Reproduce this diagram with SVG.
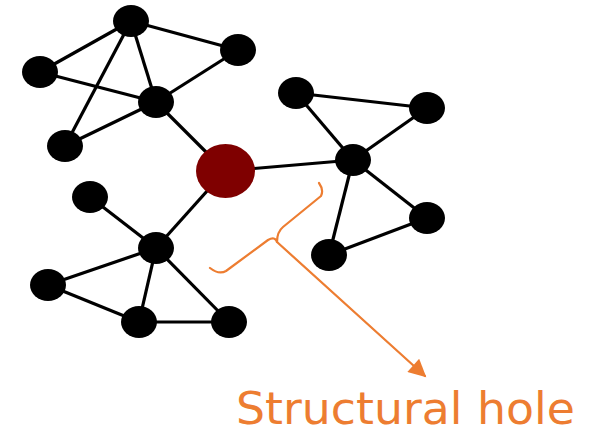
<svg xmlns="http://www.w3.org/2000/svg" width="595" height="436" viewBox="0 0 595 436">
  <style>
    .edge { stroke: #000; stroke-width: 3.2; fill: none; }
    .node { fill: #000; }
    .hub { fill: #7f0000; }
    .hole { stroke: #ED7D31; stroke-width: 2.2; fill: none; stroke-linecap: round; stroke-linejoin: round; }
    .label { fill: #ED7D31; font-family: "DejaVu Sans", "Liberation Sans", sans-serif; font-size: 44px; }
  </style>
  <defs>
    <marker id="arrow" viewBox="0 0 10 10" refX="9" refY="5" markerWidth="10" markerHeight="8" markerUnits="strokeWidth" orient="auto">
      <path d="M0,0 L10,5 L0,10 z" fill="#ED7D31"/>
    </marker>
  </defs>
  <rect width="595" height="436" fill="#fff"/>

  <g id="connectors">
    <!-- upper-left cluster -->
    <line class="edge" x1="131" y1="21" x2="40" y2="72"/>
    <line class="edge" x1="131" y1="21" x2="65" y2="146"/>
    <line class="edge" x1="131" y1="21" x2="156" y2="102"/>
    <line class="edge" x1="131" y1="21" x2="238" y2="50"/>
    <line class="edge" x1="40" y1="72" x2="156" y2="102"/>
    <line class="edge" x1="65" y1="146" x2="156" y2="102"/>
    <line class="edge" x1="238" y1="50" x2="156" y2="102"/>
    <line class="edge" x1="156" y1="102" x2="225" y2="171"/>
    <!-- right cluster -->
    <line class="edge" x1="296" y1="93" x2="427" y2="108"/>
    <line class="edge" x1="296" y1="93" x2="353" y2="160"/>
    <line class="edge" x1="427" y1="108" x2="353" y2="160"/>
    <line class="edge" x1="353" y1="160" x2="225" y2="171"/>
    <line class="edge" x1="353" y1="160" x2="427" y2="218"/>
    <line class="edge" x1="353" y1="160" x2="329" y2="255"/>
    <line class="edge" x1="427" y1="218" x2="329" y2="255"/>
    <!-- lower-left cluster -->
    <line class="edge" x1="90" y1="197" x2="156" y2="248"/>
    <line class="edge" x1="156" y1="248" x2="225" y2="171"/>
    <line class="edge" x1="156" y1="248" x2="48" y2="285"/>
    <line class="edge" x1="156" y1="248" x2="139" y2="322"/>
    <line class="edge" x1="156" y1="248" x2="229" y2="322"/>
    <line class="edge" x1="48" y1="285" x2="139" y2="322"/>
    <line class="edge" x1="139" y1="322" x2="229" y2="322"/>
  </g>

  <g id="n-a"><ellipse class="node" cx="131" cy="21" rx="18" ry="16"/></g>
  <g id="n-b"><ellipse class="node" cx="238" cy="50" rx="18" ry="16"/></g>
  <g id="n-c"><ellipse class="node" cx="40" cy="72" rx="18" ry="16"/></g>
  <g id="n-d"><ellipse class="node" cx="156" cy="102" rx="18" ry="16"/></g>
  <g id="n-e"><ellipse class="node" cx="65" cy="146" rx="18" ry="16"/></g>
  <g id="n-f"><ellipse class="node" cx="296" cy="93" rx="18" ry="16"/></g>
  <g id="n-g"><ellipse class="node" cx="427" cy="108" rx="18" ry="16"/></g>
  <g id="n-h"><ellipse class="node" cx="353" cy="160" rx="18" ry="16"/></g>
  <g id="n-i"><ellipse class="node" cx="427" cy="218" rx="18" ry="16"/></g>
  <g id="n-j"><ellipse class="node" cx="329" cy="255" rx="18" ry="16"/></g>
  <g id="n-k"><ellipse class="node" cx="90" cy="197" rx="18" ry="16"/></g>
  <g id="n-l"><ellipse class="node" cx="156" cy="248" rx="18" ry="16"/></g>
  <g id="n-m"><ellipse class="node" cx="48" cy="285" rx="18" ry="16"/></g>
  <g id="n-n"><ellipse class="node" cx="139" cy="322" rx="18" ry="16"/></g>
  <g id="n-o"><ellipse class="node" cx="229" cy="322" rx="18" ry="16"/></g>
  <g id="n-hub"><ellipse class="hub" cx="225.5" cy="171" rx="29.5" ry="27"/></g>

  <g id="structural-hole">
    <path class="hole" d="M319,183 Q324,190 321,196 L283,227 Q277,232 277,242 Q275,236 268,240 L226,271 Q219,275 210,268"/>
    <line class="hole" x1="277" y1="242" x2="425" y2="376" marker-end="url(#arrow)"/>
    <text class="label" x="236" y="424" textLength="339" lengthAdjust="spacingAndGlyphs">Structural hole</text>
  </g>
</svg>
